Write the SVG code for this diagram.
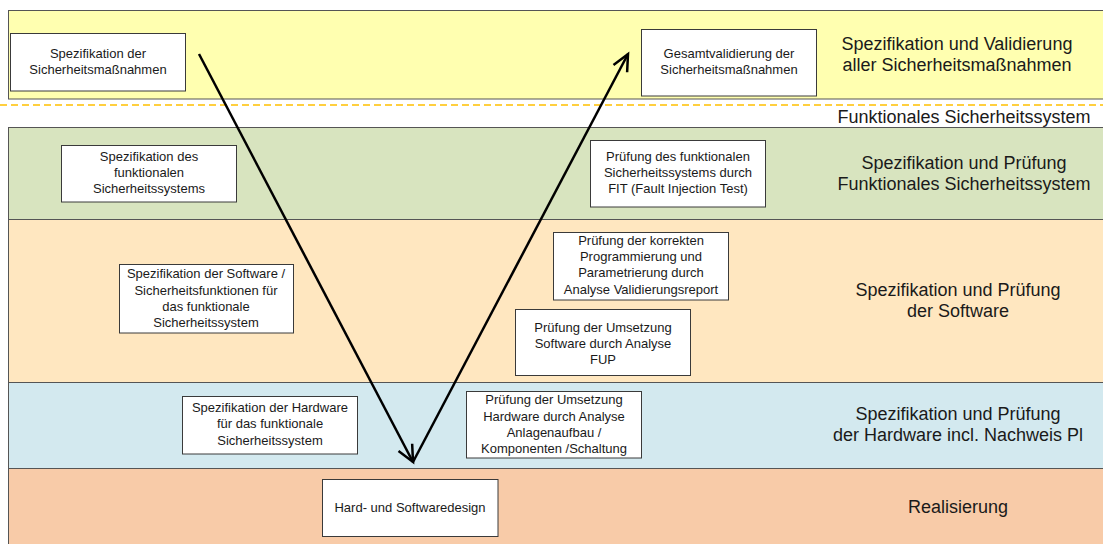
<svg xmlns="http://www.w3.org/2000/svg" width="1103" height="544" viewBox="0 0 1103 544">
  <style>
    .band { stroke: #555555; stroke-width: 1; }
    .box { fill: #ffffff; stroke: #3a3a3a; stroke-width: 1; }
    .t { font-family: "Liberation Sans", Arial, sans-serif; font-size: 13px; fill: #1a1a1a; text-anchor: middle; }
    .h { font-family: "Liberation Sans", Arial, sans-serif; font-size: 18px; fill: #1a1a1a; text-anchor: middle; }
    .conn { fill: none; stroke: #000000; stroke-width: 2.5; }
  </style>
  <defs>
    <marker id="open" markerUnits="userSpaceOnUse" markerWidth="24" markerHeight="24" viewBox="-20 -12 24 24" refX="0" refY="0" orient="auto">
      <path d="M -16.5,-7.7 L 0,0 L -16.5,7.7" fill="none" stroke="#000000" stroke-width="2.5" stroke-linejoin="miter"/>
    </marker>
  </defs>
  <rect width="1103" height="544" fill="#ffffff"/>

  <g id="bands">
    <rect class="band" x="8.5" y="10.5" width="1100" height="88.5" fill="#FFFFB0"/>
    <rect class="band" x="8.5" y="127.5" width="1100" height="92" fill="#D8E4BF"/>
    <rect class="band" x="8.5" y="219.5" width="1100" height="163" fill="#FFE7C0"/>
    <rect class="band" x="8.5" y="382.5" width="1100" height="86" fill="#D3E9EF"/>
    <rect class="band" x="8.5" y="468.5" width="1100" height="90" fill="#F8CBA8"/>
    <line x1="0" y1="105" x2="1103" y2="105" stroke="#FFC000" stroke-width="1.5" stroke-dasharray="7,4"/>
  </g>

  <g id="labels">
    <text class="h" x="957" y="50">Spezifikation und Validierung</text>
    <text class="h" x="957" y="71">aller Sicherheitsmaßnahmen</text>
    <text class="h" x="964" y="123">Funktionales Sicherheitssystem</text>
    <text class="h" x="964" y="169">Spezifikation und Prüfung</text>
    <text class="h" x="964" y="190">Funktionales Sicherheitssystem</text>
    <text class="h" x="958" y="296">Spezifikation und Prüfung</text>
    <text class="h" x="958" y="317">der Software</text>
    <text class="h" x="958" y="420">Spezifikation und Prüfung</text>
    <text class="h" x="958" y="441">der Hardware incl. Nachweis Pl</text>
    <text class="h" x="958" y="513">Realisierung</text>
  </g>

  <g id="n-spec-massnahmen">
    <rect class="box" x="10.5" y="33.5" width="175" height="57.5"/>
    <text class="t" x="98" y="58">Spezifikation der</text>
    <text class="t" x="98" y="74">Sicherheitsmaßnahmen</text>
  </g>
  <g id="n-gesamtvalidierung">
    <rect class="box" x="641.5" y="29.5" width="175" height="66.5"/>
    <text class="t" x="729" y="58">Gesamtvalidierung der</text>
    <text class="t" x="729" y="74">Sicherheitsmaßnahmen</text>
  </g>
  <g id="n-spec-fss">
    <rect class="box" x="61.5" y="145.5" width="175" height="56.5"/>
    <text class="t" x="149" y="161">Spezifikation des</text>
    <text class="t" x="149" y="177">funktionalen</text>
    <text class="t" x="149" y="193">Sicherheitssystems</text>
  </g>
  <g id="n-pruef-fss">
    <rect class="box" x="590.5" y="140.5" width="175" height="66.5"/>
    <text class="t" x="678" y="161">Prüfung des funktionalen</text>
    <text class="t" x="678" y="177">Sicherheitssystems durch</text>
    <text class="t" x="678" y="193">FIT (Fault Injection Test)</text>
  </g>
  <g id="n-spec-software">
    <rect class="box" x="119.5" y="264.5" width="174" height="68.5"/>
    <text class="t" x="206" y="278">Spezifikation der Software /</text>
    <text class="t" x="206" y="295">Sicherheitsfunktionen für</text>
    <text class="t" x="206" y="311">das funktionale</text>
    <text class="t" x="206" y="327">Sicherheitssystem</text>
  </g>
  <g id="n-pruef-programmierung">
    <rect class="box" x="553.5" y="232.5" width="175" height="67.5"/>
    <text class="t" x="641" y="245">Prüfung der korrekten</text>
    <text class="t" x="641" y="261">Programmierung und</text>
    <text class="t" x="641" y="277">Parametrierung durch</text>
    <text class="t" x="641" y="294">Analyse Validierungsreport</text>
  </g>
  <g id="n-pruef-software">
    <rect class="box" x="515.5" y="309.5" width="175" height="66"/>
    <text class="t" x="603" y="332">Prüfung der Umsetzung</text>
    <text class="t" x="603" y="348">Software durch Analyse</text>
    <text class="t" x="603" y="364">FUP</text>
  </g>
  <g id="n-spec-hardware">
    <rect class="box" x="182.5" y="396.5" width="175" height="57.5"/>
    <text class="t" x="270" y="412">Spezifikation der Hardware</text>
    <text class="t" x="270" y="428">für das funktionale</text>
    <text class="t" x="270" y="445">Sicherheitssystem</text>
  </g>
  <g id="n-pruef-hardware">
    <rect class="box" x="466.5" y="391.5" width="175" height="66.5"/>
    <text class="t" x="554" y="404">Prüfung der Umsetzung</text>
    <text class="t" x="554" y="421">Hardware durch Analyse</text>
    <text class="t" x="554" y="437">Anlagenaufbau /</text>
    <text class="t" x="554" y="453">Komponenten /Schaltung</text>
  </g>
  <g id="n-design">
    <rect class="box" x="322.5" y="479.5" width="175.5" height="57"/>
    <text class="t" x="410" y="512">Hard- und Softwaredesign</text>
  </g>

  <g id="connectors">
    <path class="conn" d="M 199,54 L 413,462" marker-end="url(#open)"/>
    <path class="conn" d="M 413,462 L 628,54" marker-end="url(#open)"/>
  </g>
</svg>
